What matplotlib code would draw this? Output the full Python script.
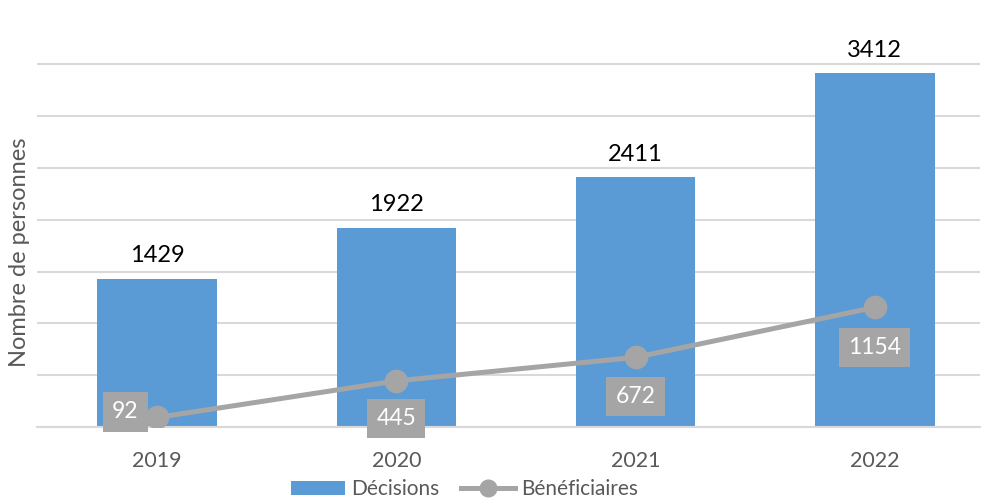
import matplotlib.pyplot as plt

years = ['2019', '2020', '2021', '2022']
decisions = [1429, 1922, 2411, 3412]
beneficiaires = [92, 445, 672, 1154]

# label offsets (points) for the line values
label_offsets = [(-23, 4), (0, -27), (0, -28), (0, -29)]

plt.rcParams['font.family'] = ['Lato', 'DejaVu Sans']


def main():
    fig = plt.figure(figsize=(9.82, 5.03), dpi=100)
    ax = fig.add_axes([37 / 982, 76 / 503, 943 / 982, 414.5 / 503])

    x = list(range(len(years)))
    bars = ax.bar(x, decisions, width=0.5, color='#5B9BD5', zorder=2,
                  label='Décisions')
    ax.bar_label(bars, labels=[str(v) for v in decisions], padding=9,
                 fontsize=17, color='black')

    line, = ax.plot(x, beneficiaires, color='#A5A5A5', lw=3.6, marker='o',
                    markersize=16, zorder=3, label='Bénéficiaires')
    for xi, v, off in zip(x, beneficiaires, label_offsets):
        ax.annotate(str(v), (xi, v), xytext=off, textcoords='offset points',
                    ha='center', va='center', fontsize=16.5, color='white',
                    zorder=4,
                    bbox=dict(boxstyle='square,pad=0.4', fc='#A5A5A5',
                              ec='none'))

    ax.set_xlim(-0.502, 3.44)
    ax.set_ylim(0, 4000)
    ax.set_yticks(range(0, 4001, 500))
    ax.set_yticklabels([])
    ax.grid(axis='y', color='#D9D9D9', lw=1.5, zorder=0)
    ax.set_axisbelow(True)
    ax.set_xticks(x)
    ax.set_xticklabels(years, fontsize=15.5, color='#595959')
    ax.tick_params(length=0, pad=17)
    for s in ['top', 'right', 'left']:
        ax.spines[s].set_visible(False)
    ax.spines['bottom'].set_color('#D9D9D9')
    ax.spines['bottom'].set_linewidth(1.5)

    fig.text(20 / 982, 0.499, 'Nombre de personnes', rotation=90,
             ha='center', va='center', fontsize=17, color='#595959')

    leg = fig.legend(handles=[bars, line], loc='lower center',
                     bbox_to_anchor=(0.473, -0.03),
                     ncol=2, frameon=False, fontsize=15, handlelength=2.6,
                     columnspacing=1.0, handletextpad=0.3)
    for t in leg.get_texts():
        t.set_color('#595959')
    leg.legend_handles[1].set_markersize(12)

    fig.savefig('out.png', dpi=100)


if __name__ == '__main__':
    main()
